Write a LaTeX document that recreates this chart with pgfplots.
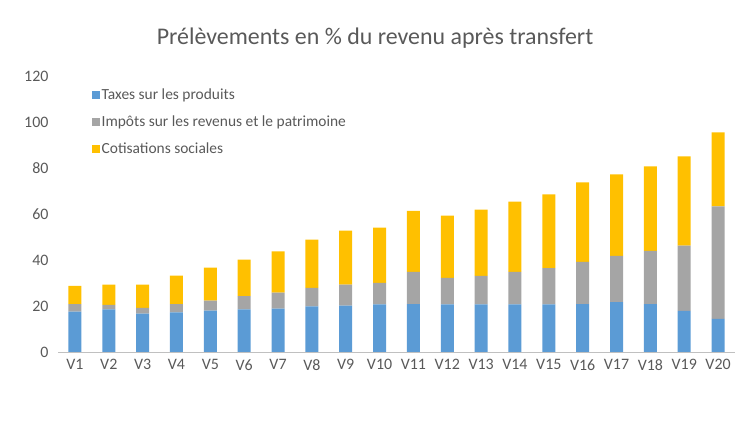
\documentclass[border=0pt]{standalone}
\usepackage{pgfplots}
\pgfplotsset{compat=1.18}
\usepackage{fontspec}
\setmainfont{Carlito}
\definecolor{cb}{HTML}{5B9BD5}
\definecolor{cg}{HTML}{A5A5A5}
\definecolor{cy}{HTML}{FFC000}
\definecolor{tx}{HTML}{595959}
\begin{document}
\begin{tikzpicture}
\useasboundingbox (0bp,0bp) rectangle (749bp,423bp);
\node[text=tx,font=\fontsize{24}{28}\selectfont] at (375bp,385bp) {Prélèvements en \% du revenu après transfert};
\begin{axis}[at={(58bp,71bp)},anchor=south west,scale only axis,width=677bp,height=276bp,
 ybar stacked, bar width=13bp, ymin=0,ymax=120, ytick={0,20,...,120},
 xmin=0.5,xmax=20.5, xtick={1,...,20}, xticklabels={V1,V2,V3,V4,V5,V6,V7,V8,V9,V10,V11,V12,V13,V14,V15,V16,V17,V18,V19,V20},
 axis y line*=left, y axis line style={draw=none}, ytick style={draw=none},
 axis x line*=bottom, x axis line style={draw=cg!70,-}, xtick style={draw=none},
 ticklabel style={text=tx,font=\fontsize{16}{18}\selectfont},
 /pgf/number format/assume math mode=true,
 yticklabel style={xshift=-6bp},
 xticklabel style={yshift=-4bp},
 legend style={at={(0.045,0.97)},anchor=north west,draw=none,fill=none,font=\fontsize{15.5}{18}\selectfont,text=tx,row sep=11bp},
 legend cell align=left,
 legend image code/.code={\fill[#1] (0bp,-4bp) rectangle (8bp,4bp);},
 clip=false]
\addplot[fill=cb,draw=none] coordinates {(1,17.6)(2,18.5)(3,16.7)(4,17.2)(5,18.0)(6,18.5)(7,18.9)(8,19.8)(9,20.2)(10,20.7)(11,20.8)(12,20.7)(13,20.7)(14,20.7)(15,20.7)(16,20.8)(17,21.7)(18,20.8)(19,17.9)(20,14.4)};
\addplot[fill=cg,draw=none] coordinates {(1,3.2)(2,2.0)(3,2.5)(4,3.6)(5,4.3)(6,5.8)(7,6.9)(8,8.1)(9,9.1)(10,9.4)(11,14.0)(12,11.5)(13,12.4)(14,14.1)(15,15.8)(16,18.4)(17,20.1)(18,23.2)(19,28.4)(20,48.9)};
\addplot[fill=cy,draw=none] coordinates {(1,8.0)(2,8.8)(3,10.1)(4,12.4)(5,14.4)(6,15.9)(7,17.9)(8,21.0)(9,23.5)(10,24.0)(11,26.6)(12,27.1)(13,28.8)(14,30.6)(15,32.0)(16,34.5)(17,35.4)(18,36.7)(19,38.8)(20,32.2)};
\legend{Taxes sur les produits,Impôts sur les revenus et le patrimoine,Cotisations sociales}
\end{axis}
\end{tikzpicture}
\end{document}
